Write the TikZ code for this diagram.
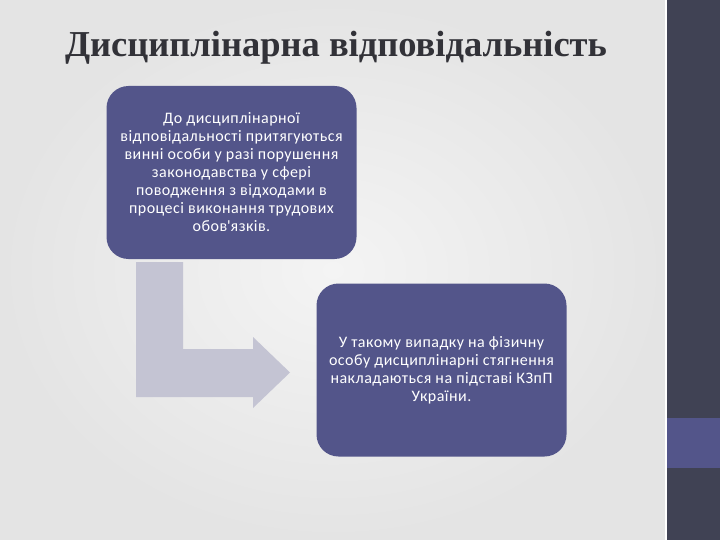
\documentclass[tikz,border=0pt]{standalone}
\usepackage{fontspec}
\setmainfont{Carlito}[LetterSpace=3]
\newfontfamily\titlefont{Liberation Serif}
\usetikzlibrary{positioning}
\definecolor{boxblue}{RGB}{83,85,138}
\definecolor{arrowgray}{RGB}{196,196,211}
\definecolor{bardark}{RGB}{64,66,84}
\definecolor{titlegray}{RGB}{50,50,56}
\definecolor{bginner}{RGB}{244,244,244}
\definecolor{bgouter}{RGB}{228,228,228}
\tikzstyle{textbox}=[rounded corners=22pt,fill=boxblue,text=white,align=center,
  minimum width=250pt,minimum height=173pt,inner sep=0pt,
  font=\fontsize{16}{18}\selectfont]
\tikzstyle{bentarrow}=[fill=arrowgray]
\tikzstyle{titletext}=[text=titlegray,anchor=base,font=\titlefont\bfseries\fontsize{36.5}{40}\selectfont]

\begin{document}
\begin{tikzpicture}[x=1pt,y=-1pt]
  \useasboundingbox (0,0) rectangle (720,540);
  % background and side bar
  \shade[inner color=bginner,outer color=bgouter] (0,0) rectangle (666,540);
  \fill[bardark] (666,0) rectangle (720,540);
  \fill[boxblue] (666,418) rectangle (720,468);
  \draw[white,line width=1.2pt] (666,0) -- (666,540);
  \node[titletext] (title) at (336,57) {Дисциплінарна відповідальність};
  % the two boxes
  \node[textbox] (duty) at (231.5,172.5) {До дисциплінарної\\відповідальності притягуються\\винні особи у разі порушення\\законодавства у сфері\\поводження з відходами в\\процесі виконання трудових\\обов\textquotesingle язків.};
  \node[textbox] (penalty) at (441.5,370) {У такому випадку на фізичну\\особу дисциплінарні стягнення\\накладаються на підставі КЗпП\\України.};
  % bent arrow between them
  \fill[bentarrow] (136,262) -- (183,262) -- (183,349) -- (253,349) -- (253,337)
    -- (290,372.5) -- (253,408) -- (253,397) -- (136,397) -- cycle;
\end{tikzpicture}
\end{document}
